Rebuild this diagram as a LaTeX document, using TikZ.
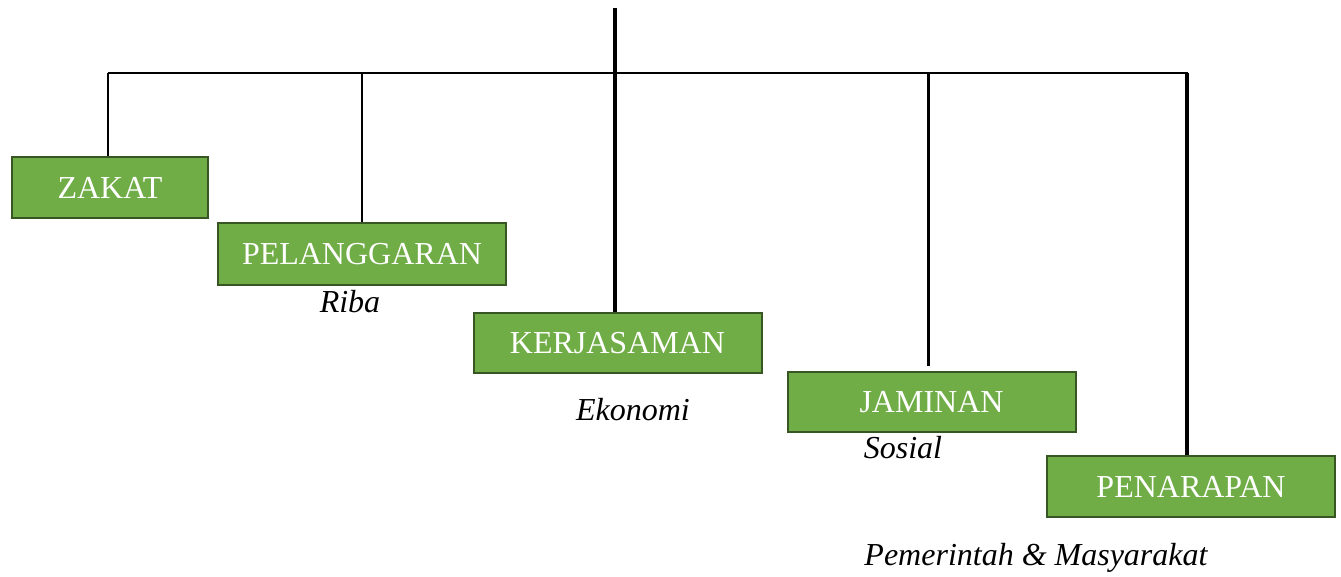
\documentclass[tikz,border=0pt]{standalone}
\usepackage{fontspec}
\setmainfont{Liberation Serif}
\usepackage{tikz}
\usetikzlibrary{positioning,calc}

\definecolor{boxfill}{HTML}{70AD47}
\definecolor{boxline}{HTML}{375623}

\begin{document}
\begin{tikzpicture}[x=0.5pt,y=-0.5pt,
    box/.style={draw=boxline,line width=1pt,fill=boxfill,text=white,inner sep=0pt,
      minimum width=144pt,minimum height=30.5pt,font=\fontsize{16}{19}\selectfont},
    sub/.style={font=\fontsize{16}{19}\selectfont\itshape,inner sep=0pt},
    stem/.style={line width=1.9pt},
    thin/.style={line width=1.2pt}]
    \useasboundingbox (0,0) rectangle (1341,577);
    % boxes
    \node[box,minimum width=98pt] (zakat) at (110,188) {ZAKAT};
    \node[box,minimum height=31pt] (langgar) at (362,254) {PELANGGARAN};
    \node[box,minimum height=30pt] (kerja) at (617.5,343) {KERJASAMAN};
    \node[box,minimum height=30pt] (jaminan) at (931.5,402) {JAMINAN};
    \node[box] (terap) at (1191,486.5) {PENARAPAN};
    % keterangan
    \node[sub] (riba) at (350,302) {Riba};
    \node[sub] (ekonomi) at (633,410) {Ekonomi};
    \node[sub] (sosial) at (903,448) {Sosial};
    \node[sub] (pm) at (1036,558) {Pemerintah \& Masyarakat};
    % garis
    \coordinate (top) at (615,8);
    \coordinate (barL) at (108,73);
    \coordinate (barR) at (1188,73);
    \draw[thin] (barL) -- (barR);
    \draw[stem] (top) -- (kerja.north -| top);
    \draw[thin] ($(zakat.north)+(-2,0)$) -- ($(zakat.north |- barL)+(-2,0)$);
    \draw[thin] (langgar.north |- barL) -- (langgar.north);
    \draw[stem] ($(jaminan.north |- barL)+(-3,0)$) -- ($(jaminan.north)+(-3,-5)$);
    \draw[stem] ($(terap.north |- barL)+(-4,0)$) -- ($(terap.north)+(-4,0)$);
  \end{tikzpicture}
\end{document}
